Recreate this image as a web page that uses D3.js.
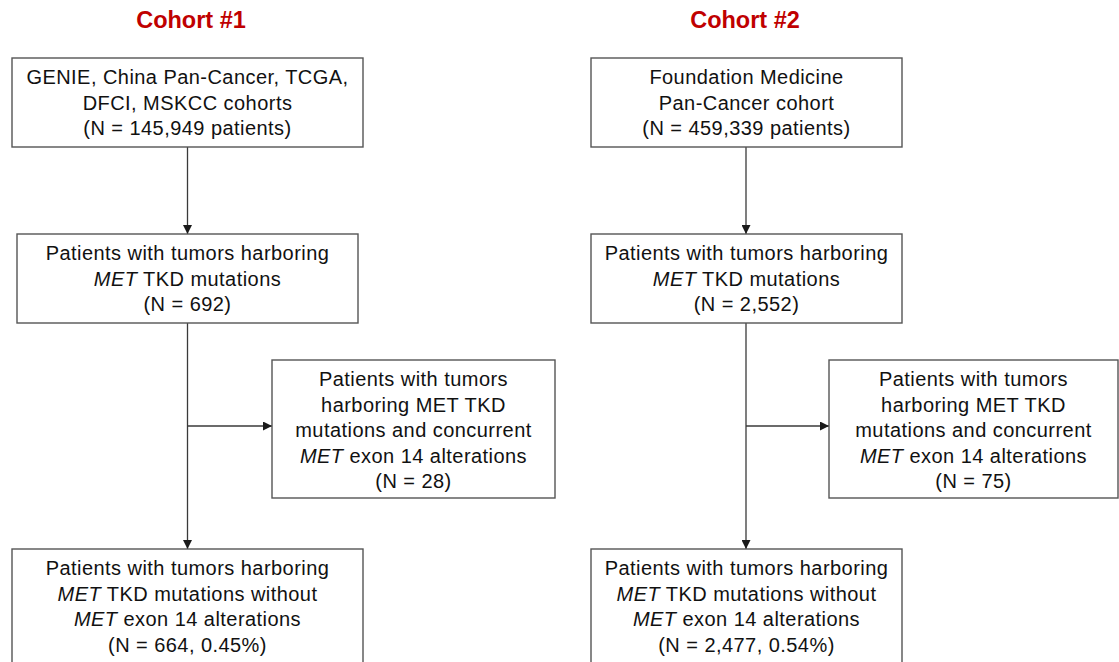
<!DOCTYPE html>
<html>
<head>
<meta charset="utf-8">
<script src="https://cdn.jsdelivr.net/npm/d3@7"></script>
<style>
  body { margin: 0; background: #fff; }
  svg { display: block; }
</style>
</head>
<body>
<div id="flow"></div>
<script>
// Values
const cohorts         = ["Cohort #1", "Cohort #2"];
const sourceLines     = [["GENIE, China Pan-Cancer, TCGA,", "DFCI, MSKCC cohorts"],
                         ["Foundation Medicine", "Pan-Cancer cohort"]];
const totalPatients   = [145949, 459339];
const tkdPatients     = [692, 2552];
const concurrentEx14  = [28, 75];
const withoutEx14     = [664, 2477];
const withoutPct      = [0.45, 0.54];

const drawFlow = () => {
  const width  = 1119;
  const height = 662;
  const fmt = d3.format(",");
  const lineH = 25.6;

  const svg = d3.select("#flow")
    .append("svg")
    .attr("width", width)
    .attr("height", height)
    .style("font-family", "'Liberation Sans', Arial, sans-serif");

  svg.append("defs").append("marker")
    .attr("id", "arrow")
    .attr("viewBox", "0 0 10 10")
    .attr("refX", 10).attr("refY", 5)
    .attr("markerUnits", "userSpaceOnUse")
    .attr("markerWidth", 9).attr("markerHeight", 9)
    .attr("orient", "auto")
    .append("path")
      .attr("d", "M0,0L10,5L0,10Z")
      .attr("fill", "#1a1a1a");

  // column geometry for each cohort (x extents of each box, spine position)
  const layout = [
    { spine: 187.5, title: 191, b1: [12, 363], b2: [17, 358], b3: [272, 555], b4: [12, 363] },
    { spine: 746,   title: 745, b1: [591, 902], b2: [591, 902], b3: [829, 1118], b4: [591, 902] }
  ];
  // y extents of the four box rows and the side branch
  const rows = { b1: [58, 147], b2: [234, 323], b3: [360, 498], b4: [549, 680] };
  const branchY = 426;

  const boxes = [];
  cohorts.forEach((c, i) => {
    boxes.push({ c: i, key: "b1", lines: [...sourceLines[i], `(N = ${fmt(totalPatients[i])} patients)`] });
    boxes.push({ c: i, key: "b2", lines: ["Patients with tumors harboring", "*MET* TKD mutations", `(N = ${fmt(tkdPatients[i])})`] });
    boxes.push({ c: i, key: "b3", lines: ["Patients with tumors", "harboring MET TKD", "mutations and concurrent",
                                           "*MET* exon 14 alterations", `(N = ${fmt(concurrentEx14[i])})`] });
    boxes.push({ c: i, key: "b4", lines: ["Patients with tumors harboring", "*MET* TKD mutations without",
                                           "*MET* exon 14 alterations", `(N = ${fmt(withoutEx14[i])}, ${withoutPct[i].toFixed(2)}%)`] });
  });

  // cohort titles
  svg.selectAll("text.title")
    .data(cohorts)
    .join("text")
      .attr("class", "title")
      .attr("x", (d, i) => layout[i].title)
      .attr("y", 28)
      .attr("text-anchor", "middle")
      .attr("fill", "#C00000")
      .style("font-size", "23.5px")
      .style("font-weight", "bold")
      .text(d => d);

  // connectors
  const links = [];
  layout.forEach(L => {
    links.push([[L.spine, rows.b1[1]], [L.spine, rows.b2[0]]]);
    links.push([[L.spine, rows.b2[1]], [L.spine, rows.b4[0]]]);
    links.push([[L.spine, branchY], [L.b3[0], branchY]]);
  });
  svg.selectAll("path.link")
    .data(links)
    .join("path")
      .attr("class", "link")
      .attr("d", d3.line())
      .attr("fill", "none")
      .attr("stroke", "#3a3a3a")
      .attr("stroke-width", 1.3)
      .attr("marker-end", "url(#arrow)");

  // boxes
  const g = svg.selectAll("g.box")
    .data(boxes)
    .join("g")
      .attr("class", "box");

  g.append("rect")
    .attr("x", d => layout[d.c][d.key][0])
    .attr("y", d => rows[d.key][0])
    .attr("width", d => layout[d.c][d.key][1] - layout[d.c][d.key][0])
    .attr("height", d => rows[d.key][1] - rows[d.key][0])
    .attr("fill", "#fff")
    .attr("stroke", "#555")
    .attr("stroke-width", 1.4);

  g.each(function(d) {
    const cx = (layout[d.c][d.key][0] + layout[d.c][d.key][1]) / 2;
    const top = rows[d.key][0] + 19;
    const t = d3.select(this).append("text")
      .attr("text-anchor", "middle")
      .attr("fill", "#111")
      .style("font-size", "20px")
      .style("letter-spacing", "0.45px");
    d.lines.forEach((line, k) => {
      const parts = line.split("*").filter(s => s !== "");
      const italicFirst = line.startsWith("*");
      const ln = t.append("tspan")
        .attr("x", cx)
        .attr("y", top + k * lineH)
        .attr("dy", "0.35em");
      parts.forEach((p, j) => {
        ln.append("tspan")
          .style("font-style", (italicFirst ? j % 2 === 0 : j % 2 === 1) ? "italic" : "normal")
          .text(p);
      });
    });
  });
};

drawFlow();
</script>
</body>
</html>
